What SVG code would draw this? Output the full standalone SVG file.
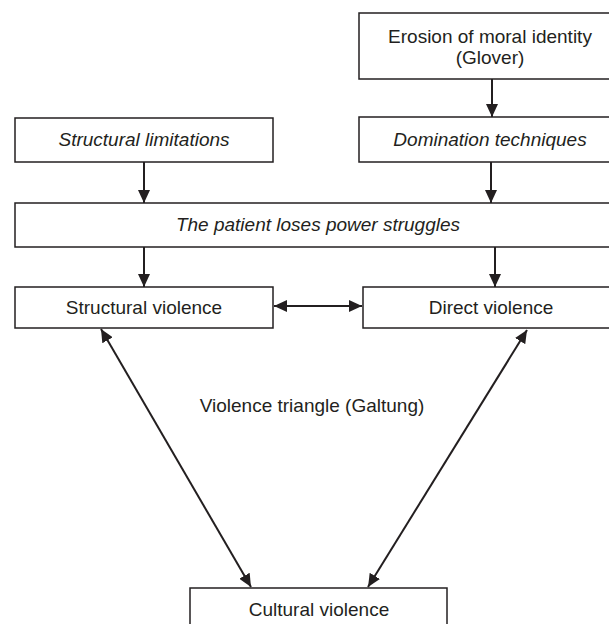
<svg xmlns="http://www.w3.org/2000/svg" width="609" height="624" viewBox="0 0 609 624">
<style>
.box{fill:#fff;stroke:#231f20;stroke-width:1.5}
.t{font-family:"Liberation Sans",Arial,sans-serif;font-size:19px;fill:#231f20;text-anchor:middle}
.i{font-style:italic}
.c{stroke:#231f20;stroke-width:2;fill:none}
</style>
<defs>
<marker id="ah" markerUnits="userSpaceOnUse" markerWidth="14" markerHeight="12" viewBox="0 0 14 12" refX="13" refY="6" orient="auto-start-reverse">
<path d="M0,0 L13,6 L0,12 Z" fill="#231f20"/>
</marker>
</defs>
<rect width="609" height="624" fill="#fff"/>
<g id="connectors">
<line class="c" x1="492" y1="79" x2="492" y2="117" marker-end="url(#ah)"/>
<line class="c" x1="144" y1="162" x2="144" y2="203" marker-end="url(#ah)"/>
<line class="c" x1="491" y1="162" x2="491" y2="203" marker-end="url(#ah)"/>
<line class="c" x1="144" y1="247" x2="144" y2="287" marker-end="url(#ah)"/>
<line class="c" x1="495" y1="247" x2="495" y2="287" marker-end="url(#ah)"/>
<line class="c" x1="274" y1="306" x2="362" y2="306" marker-start="url(#ah)" marker-end="url(#ah)"/>
<line class="c" x1="101" y1="329" x2="251" y2="587" marker-start="url(#ah)" marker-end="url(#ah)"/>
<line class="c" x1="527" y1="330" x2="368" y2="587" marker-start="url(#ah)" marker-end="url(#ah)"/>
</g>
<g id="erosion">
<rect class="box" x="359" y="13" width="262" height="66"/>
<text class="t" x="490" y="43">Erosion of moral identity</text>
<text class="t" x="490" y="64">(Glover)</text>
</g>
<g id="limitations">
<rect class="box" x="15" y="118" width="258" height="44"/>
<text class="t i" x="144" y="146">Structural limitations</text>
</g>
<g id="domination">
<rect class="box" x="359" y="117" width="262" height="45"/>
<text class="t i" x="490" y="146">Domination techniques</text>
</g>
<g id="patient">
<rect class="box" x="15" y="203" width="606" height="44"/>
<text class="t i" x="318" y="231">The patient loses power struggles</text>
</g>
<g id="structural">
<rect class="box" x="15" y="287" width="258" height="41"/>
<text class="t" x="144" y="314">Structural violence</text>
</g>
<g id="direct">
<rect class="box" x="363" y="287" width="258" height="41"/>
<text class="t" x="491" y="314">Direct violence</text>
</g>
<g id="triangle-label">
<text class="t" x="312" y="412">Violence triangle (Galtung)</text>
</g>
<g id="cultural">
<rect class="box" x="190" y="588" width="257" height="44"/>
<text class="t" x="319" y="616">Cultural violence</text>
</g>
</svg>
